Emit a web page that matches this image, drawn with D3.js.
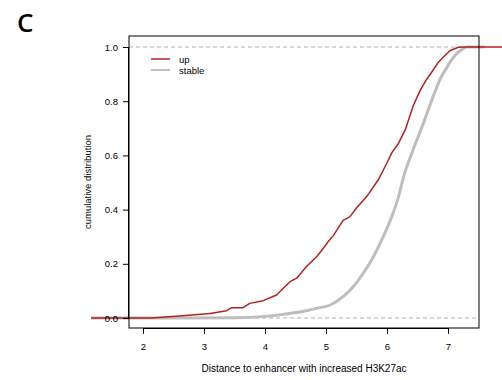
<!DOCTYPE html>
<html>
<head>
<meta charset="utf-8">
<script src="https://cdn.jsdelivr.net/npm/d3@7"></script>
<style>
body{margin:0;background:#fff;}
svg{display:block;font-family:"Liberation Sans",Arial,sans-serif;}
</style>
</head>
<body>
<svg id="chart" width="502" height="380"></svg>
<script>
// Data (x = distance, y = cumulative fraction)
const upX = [1.15, 2.14, 2.6, 3.10, 3.37, 3.45, 3.64, 3.75, 3.97, 4.19, 4.30, 4.41, 4.52, 4.68, 4.85, 4.96, 5.04, 5.12, 5.28, 5.39, 5.50, 5.67, 5.86, 6.00, 6.08, 6.19, 6.30, 6.43, 6.54, 6.65, 6.73, 6.84, 6.92, 7.03, 7.17, 7.31, 7.95];
const upY = [0, 0, 0.007, 0.017, 0.027, 0.038, 0.038, 0.054, 0.064, 0.085, 0.110, 0.134, 0.147, 0.190, 0.227, 0.258, 0.283, 0.304, 0.360, 0.373, 0.406, 0.449, 0.511, 0.573, 0.610, 0.645, 0.695, 0.783, 0.838, 0.881, 0.906, 0.943, 0.962, 0.986, 0.999, 1.0, 1.0];
const stableX = [1.15, 3.5, 4.0, 4.4, 4.7, 4.85, 5.07, 5.28, 5.45, 5.61, 5.78, 5.94, 6.08, 6.19, 6.27, 6.43, 6.60, 6.76, 6.87, 6.98, 7.09, 7.20, 7.31, 7.6];
const stableY = [0, 0.001, 0.006, 0.017, 0.028, 0.036, 0.048, 0.079, 0.116, 0.165, 0.227, 0.301, 0.375, 0.449, 0.519, 0.622, 0.721, 0.819, 0.881, 0.924, 0.962, 0.986, 1.0, 1.0];
const xTicks = [2, 3, 4, 5, 6, 7];
const yTicks = [0, 0.2, 0.4, 0.6, 0.8, 1.0];
const seriesNames = ["up", "stable"];
const seriesColors = ["#b22222", "#bebebe"];

const svg = d3.select("#chart");
const L = 129, R = 479, T = 36, B = 328;
const x = d3.scaleLinear().domain([2, 7]).range([143, 448]);
const y = d3.scaleLinear().domain([0, 1]).range([318, 47]);

// panel label
svg.append("text").attr("x", 17).attr("y", 32)
  .attr("font-family", "'Open Sans','Noto Sans',sans-serif")
  .attr("font-size", 26).attr("font-weight", 600).attr("fill", "#000").text("C");

// clip for reference lines
svg.append("clipPath").attr("id", "box").append("rect")
  .attr("x", L).attr("y", T).attr("width", R - L).attr("height", B - T);

// dashed reference lines at 0 and 1
svg.append("g").attr("clip-path", "url(#box)")
  .selectAll("line").data([0, 1]).join("line")
  .attr("x1", L).attr("x2", R)
  .attr("y1", d => y(d)).attr("y2", d => y(d))
  .attr("stroke", "#b0b0b0").attr("stroke-width", 1)
  .attr("stroke-dasharray", "4,3");

const smooth = d3.line().x(d => x(d[0])).y(d => y(d[1])).curve(d3.curveMonotoneX);
const line = d3.line().x(d => x(d[0])).y(d => y(d[1]));
svg.append("path").datum(stableX.map((v, i) => [v, stableY[i]]))
  .attr("d", smooth).attr("fill", "none")
  .attr("stroke", seriesColors[1]).attr("stroke-width", 3)
  .attr("stroke-linejoin", "round");
svg.append("path").datum(upX.map((v, i) => [v, upY[i]]))
  .attr("d", line).attr("fill", "none")
  .attr("stroke", seriesColors[0]).attr("stroke-width", 1.5)
  .attr("stroke-linejoin", "round");

// box
svg.append("rect").attr("x", L).attr("y", T).attr("width", R - L).attr("height", B - T)
  .attr("fill", "none").attr("stroke", "#000").attr("stroke-width", 1);

// axes
const xAxis = d3.axisBottom(x).tickValues(xTicks).tickSize(6).tickPadding(9)
  .tickFormat(d3.format("d"));
const gx = svg.append("g").attr("transform", `translate(0,${B})`).call(xAxis);
gx.select(".domain").attr("d", `M${x(2)},0.5H${x(7)}`);
const yAxis = d3.axisLeft(y).tickValues(yTicks).tickSize(6).tickPadding(5)
  .tickFormat(d3.format(".1f"));
const gy = svg.append("g").attr("transform", `translate(${L},0)`).call(yAxis);
gy.select(".domain").attr("d", `M-0.5,${y(0)}V${y(1)}`);
svg.selectAll(".tick text").attr("font-size", 9.5)
  .attr("font-family", "'Liberation Sans',Arial,sans-serif").attr("fill", "#000");

// axis titles
svg.append("text").attr("x", (L + R) / 2).attr("y", 372).attr("text-anchor", "middle")
  .attr("font-size", 10).text("Distance to enhancer with increased H3K27ac");
svg.append("text").attr("transform", `translate(91,${(T + B) / 2}) rotate(-90)`)
  .attr("text-anchor", "middle").attr("font-size", 9.5).text("cumulative distribution");

// legend
const lg = svg.append("g");
seriesNames.forEach((n, i) => {
  const yy = 59 + i * 11;
  lg.append("line").attr("x1", 151).attr("x2", 170).attr("y1", yy).attr("y2", yy)
    .attr("stroke", seriesColors[i]).attr("stroke-width", i === 0 ? 1.5 : 2);
  lg.append("text").attr("x", 179).attr("y", yy + 3.5).attr("font-size", 9.5).text(n);
});
</script>
</body>
</html>
